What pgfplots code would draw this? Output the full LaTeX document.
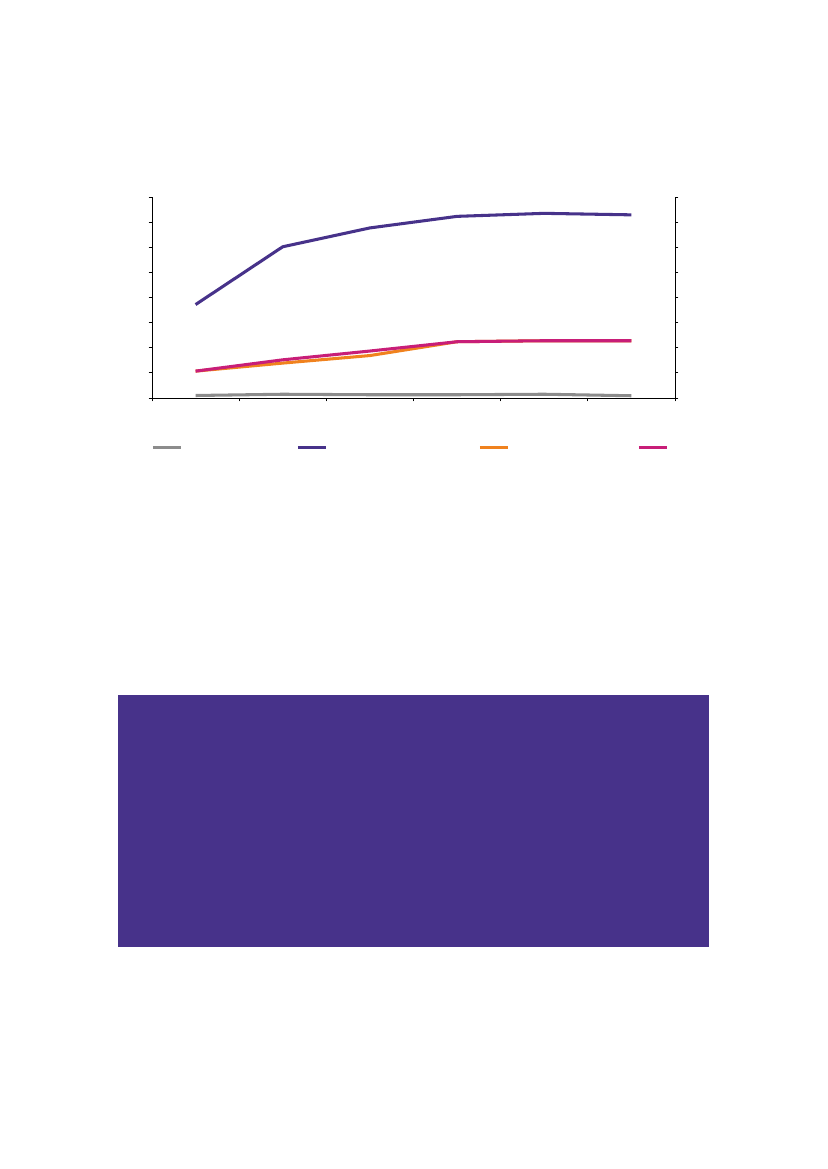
\documentclass[border=0pt]{standalone}
\usepackage{pgfplots}
\pgfplotsset{compat=1.18}

\definecolor{cpurple}{RGB}{71,50,138}
\definecolor{corange}{RGB}{240,130,30}
\definecolor{cmagenta}{RGB}{200,30,120}
\definecolor{cgray}{RGB}{140,140,140}

\begin{document}
\begin{tikzpicture}
  % page frame, origin at the top left
  \path[use as bounding box] (0,0) rectangle (595.44pt,-841.68pt);
  \fill[cpurple] (84.96pt,-500.4pt) rectangle (510.48pt,-681.84pt);

  \begin{axis}[
    at={(109.44pt,-286.56pt)}, anchor=south west,
    scale only axis, width=376.56pt, height=144.72pt,
    xmin=0, xmax=6, ymin=0, ymax=8,
    xtick={0,1,...,6}, ytick={0,1,...,8},
    xticklabels={}, yticklabels={},
    axis x line*=bottom, axis y line*=box,
    axis line style={black, line width=0.7pt, -},
    tick align=outside, major tick length=2.5pt,
    tick style={black, line width=0.6pt},
    legend columns=4,
    legend style={draw=none, fill=none, at={(-0.002,-0.244)}, anchor=west,
      inner sep=0pt, nodes={inner sep=0pt}},
    legend image code/.code={\draw[#1] (0,0) -- (20.16pt,0);},
    every axis plot/.append style={line width=2.2pt, line join=round, no markers},
  ]
    \addplot[cgray] coordinates {(0.5,0.10) (1.5,0.15) (2.5,0.13) (3.5,0.13) (4.5,0.15) (5.5,0.09)};
    \addlegendentry{\rule{82.08pt}{0pt}}
    \addplot[cpurple] coordinates {(0.5,3.72) (1.5,6.02) (2.5,6.77) (3.5,7.23) (4.5,7.35) (5.5,7.29)};
    \addlegendentry{\rule{108.72pt}{0pt}}
    \addplot[corange] coordinates {(0.5,1.07) (1.5,1.39) (2.5,1.69) (3.5,2.24) (4.5,2.28) (5.5,2.28)};
    \addlegendentry{\rule{92.16pt}{0pt}}
    \addplot[cmagenta] coordinates {(0.5,1.07) (1.5,1.52) (2.5,1.87) (3.5,2.24) (4.5,2.28) (5.5,2.28)};
    \addlegendentry{\rule{0pt}{0pt}}
  \end{axis}
\end{tikzpicture}
\end{document}
